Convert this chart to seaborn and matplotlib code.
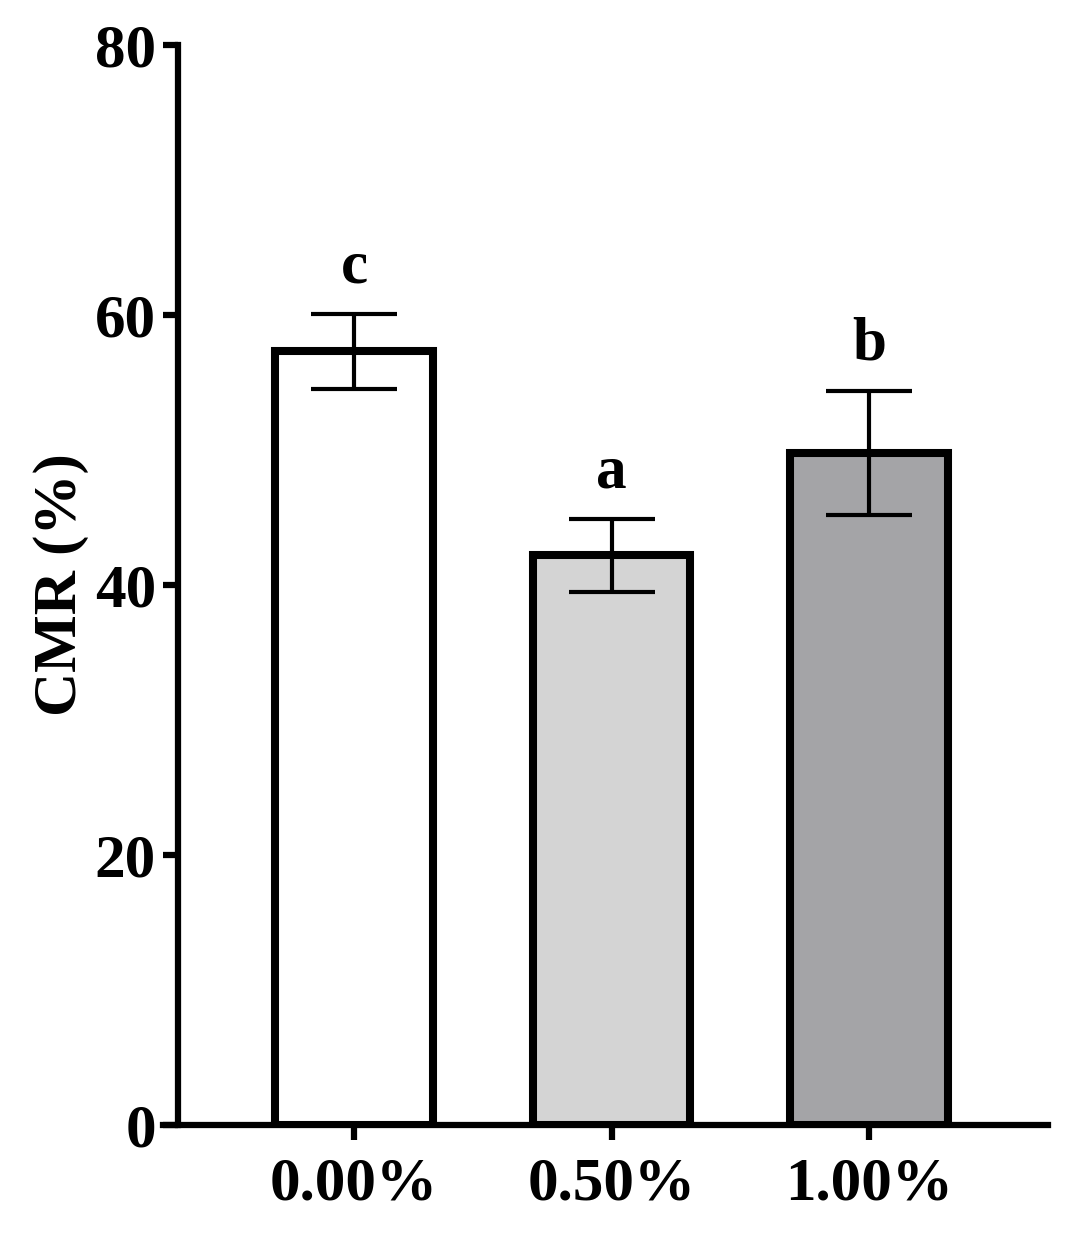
import numpy as np
import pandas as pd
import matplotlib
matplotlib.use('Agg')
import matplotlib.pyplot as plt
import seaborn as sns

# datos
dosis = ['0.00%', '0.50%', '1.00%']
cmr = [57.3, 42.2, 49.8]
error = [2.8, 2.7, 4.6]
letras = ['c', 'a', 'b']
colores = ['#ffffff', '#d4d4d4', '#a3a3a8']

sns.set_style('ticks')
plt.rcParams['font.family'] = ['Liberation Serif', 'DejaVu Serif']
plt.rcParams['font.weight'] = 'bold'
plt.rcParams['text.color'] = 'black'
plt.rcParams['axes.labelcolor'] = 'black'
plt.rcParams['axes.edgecolor'] = 'black'

df = pd.DataFrame({'dosis': dosis, 'cmr': cmr})

fig = plt.figure(figsize=(10.7, 12.41), dpi=100)
ax = fig.add_axes([0.1523, 0.0935, 0.9794 - 0.1523, 0.9637 - 0.0935])

sns.barplot(data=df, x='dosis', y='cmr', hue='dosis', palette=colores,
            width=0.61, edgecolor='black', linewidth=5.8, legend=False,
            errorbar=None, ax=ax)
ax.errorbar(range(len(dosis)), cmr, yerr=error, fmt='none', ecolor='black',
            elinewidth=3, capsize=31, capthick=3, zorder=5)

# letras de significancia
for i, (m, e, l) in enumerate(zip(cmr, error, letras)):
    ax.annotate(l, (i, m + e), xytext=(0, 13), textcoords='offset points',
                ha='center', va='bottom', fontsize=44, fontweight='bold',
                color='black')

ax.set_xlim(-0.742, 2.695)
ax.set_ylim(0, 80)
ax.set_yticks([0, 20, 40, 60, 80])
ax.spines['left'].set_position(('data', -0.683))
for s in ['top', 'right']:
    ax.spines[s].set_visible(False)
ax.spines['left'].set_linewidth(4.5)
ax.spines['bottom'].set_linewidth(4.5)
ax.tick_params(axis='both', width=4.5, length=11, labelsize=44, colors='black')
ax.tick_params(axis='y', pad=5)
ax.tick_params(axis='x', pad=12)
for t in ax.get_xticklabels() + ax.get_yticklabels():
    t.set_fontweight('bold')

ax.set_xlabel('')
ax.set_ylabel('CMR (%)', fontsize=44, fontweight='bold', labelpad=4,
              color='black')

fig.savefig('out.png', dpi=100)
